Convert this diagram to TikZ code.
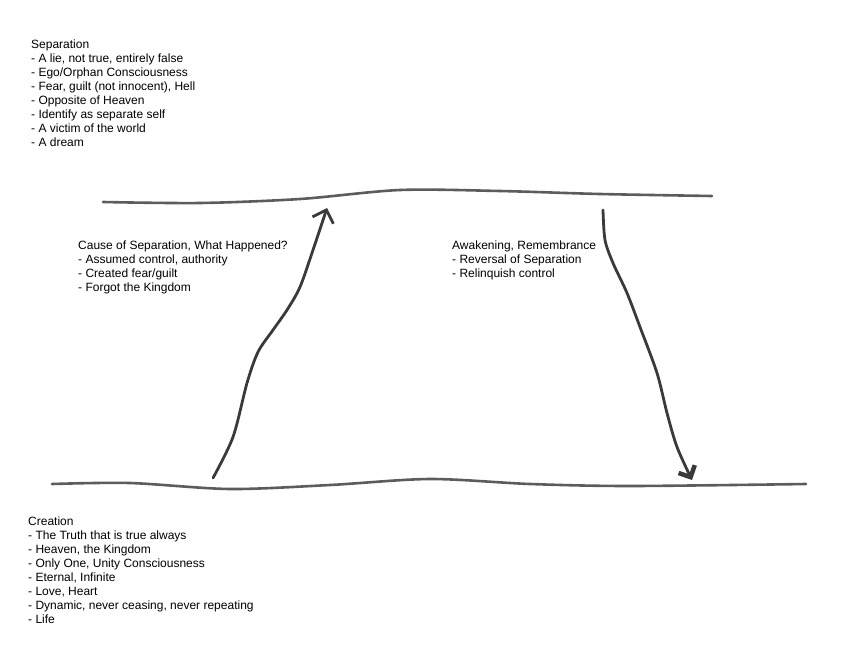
\documentclass[tikz,border=0pt]{standalone}
\usepackage{fontspec}
\setmainfont{Liberation Sans}
\usetikzlibrary{arrows.meta}
\definecolor{pencil}{HTML}{5C5C5C}
\definecolor{ink}{HTML}{3A3A3A}
\tikzset{
  notes/.style={anchor=north west,inner sep=0pt,align=left,font=\fontsize{12}{14}\selectfont},
  level/.style={pencil,line width=2.6pt,line cap=round},
  shiftline/.style={ink,line width=2.8pt,line cap=round,line join=round}
}
\begin{document}
\begin{tikzpicture}[x=1pt,y=-1pt]
\useasboundingbox (0,0) rectangle (844,662);
\node[notes] (separation) at (31,39.5) {Separation\\- A lie, not true, entirely false\\- Ego/Orphan Consciousness\\- Fear, guilt (not innocent), Hell\\- Opposite of Heaven\\- Identify as separate self\\- A victim of the world\\- A dream};
\node[notes] (cause) at (78,240.5) {Cause of Separation, What Happened?\\- Assumed control, authority\\- Created fear/guilt\\- Forgot the Kingdom};
\node[notes] (awakening) at (452,241) {Awakening, Remembrance\\- Reversal of Separation\\- Relinquish control};
\node[notes] (creation) at (28,517) {Creation\\- The Truth that is true always\\- Heaven, the Kingdom\\- Only One, Unity Consciousness\\- Eternal, Infinite\\- Love, Heart\\- Dynamic, never ceasing, never repeating\\- Life};
\coordinate (topL) at (103,202);
\coordinate (topR) at (712,196);
\coordinate (botL) at (52,484);
\coordinate (botR) at (806,484);
\draw[level] plot[smooth] coordinates {(topL) (200,203) (300,199) (400,190) (500,191) (600,194) (topR)};
\draw[level] plot[smooth] coordinates {(botL) (130,483) (230,489) (330,485) (430,479) (530,484) (630,486) (botR)};
\coordinate (causeFoot) at (213,478);
\coordinate (causeTip) at (327,208);
\coordinate (wakeTop) at (603,210);
\coordinate (wakeTip) at (692,480);
\draw[shiftline,-{Straight Barb[length=11pt,width=22pt]}] plot[smooth] coordinates {(causeFoot) (233,437) (247,383) (258,352) (273,330) (287,310) (300,287) (313,250) (causeTip)};
\draw[shiftline,-{Straight Barb[length=9pt,width=18pt,line width=4.5pt]}] plot[smooth] coordinates {(wakeTop) (605,240) (613,263) (627,293) (640,327) (657,373) (667,413) (677,447) (wakeTip)};
\end{tikzpicture}
\end{document}
